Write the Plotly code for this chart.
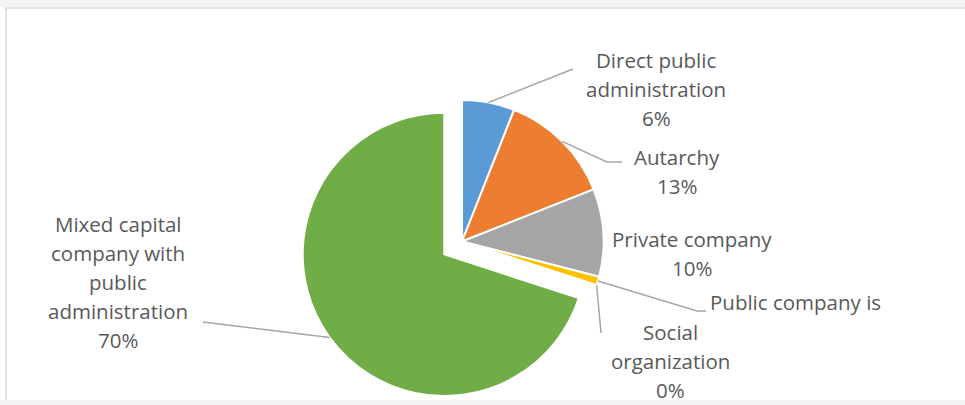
import math
import plotly.graph_objects as go

# Share of entities by legal nature (percent)
categories = [
    "Direct public administration",
    "Autarchy",
    "Private company",
    "Public company is",
    "Social organization",
    "Mixed capital company with public administration",
]
values = [6, 13, 10, 1, 0, 70]
pct_labels = ["6%", "13%", "10%", "", "0%", "70%"]
# wrapped label lines as printed next to the pie
label_lines = [
    ["Direct public", "administration"],
    ["Autarchy"],
    ["Private company"],
    ["Public company is"],
    ["Social", "organization"],
    ["Mixed capital", "company with", "public", "administration"],
]
colors = ["#5B9BD5", "#ED7D31", "#A5A5A5", "#FFC000", "#4472C4", "#70AD47"]
pulls = [0, 0, 0, 0, 0, 0.155]

W, H = 965, 405
T, B = 78, 0
PH = H - T - B
DOM_X = [0.2, 0.7575]


def px(x):
    return x / W


def py(y):
    return 1 - (y - T) / PH


fig = go.Figure()
fig.add_trace(go.Pie(
    labels=categories,
    values=values,
    sort=False,
    direction="clockwise",
    rotation=0,
    pull=pulls,
    marker=dict(colors=colors, line=dict(color="white", width=2)),
    textinfo="none",
    hoverinfo="label+percent",
    showlegend=False,
    domain=dict(x=DOM_X, y=[0, 1]),
))

# pie geometry as plotly lays it out
cx = W * (DOM_X[0] + DOM_X[1]) / 2
cy = T + PH / 2
r = min(W * (DOM_X[1] - DOM_X[0]) / 2, PH / 2) / (1 + max(pulls))

total = sum(values)
cum = 0
anchors = []
for v, p in zip(values, pulls):
    mid = (cum + v / 2) / total * 2 * math.pi
    cum += v
    ox = cx + p * r * math.sin(mid)
    oy = cy - p * r * math.cos(mid)
    anchors.append((ox + r * math.sin(mid), oy - r * math.cos(mid)))

TEXT = "#595959"
FONT = "Open Sans"
FS = 20.5
LH = 29

# label placement: (centre x, first line y, anchor side)
label_pos = [
    (656, 60, "center"),
    (677, 157, "center"),
    (692, 239, "center"),
    (708, 302, "left"),
    (670, 332, "center"),
    (118, 224, "center"),
]
# leader line bends near each label (None = no leader)
leaders = [
    [(573, 69)],
    [(607, 162), (622, 162)],
    None,
    [(697, 311), (706, 311)],
    [(601, 333)],
    [(203, 322)],
]

annotations = []
for i, (lines, pct) in enumerate(zip(label_lines, pct_labels)):
    x0, y0, side = label_pos[i]
    rows = lines + ([pct] if pct else [])
    for k, row in enumerate(rows):
        annotations.append(dict(
            x=px(x0), y=py(y0 + k * LH), xref="paper", yref="paper",
            text=row, showarrow=False,
            xanchor=side, yanchor="middle",
            font=dict(family=FONT, size=FS, color=TEXT),
        ))

shapes = []
for i, pts in enumerate(leaders):
    if not pts:
        continue
    ax, ay = anchors[i]
    path = f"M {px(ax)},{py(ay)}" + "".join(f" L {px(x)},{py(y)}" for x, y in pts)
    shapes.append(dict(type="path", path=path, xref="paper", yref="paper",
                       line=dict(color="#A6A6A6", width=1.5), layer="above"))

# chart frame
shapes += [
    dict(type="rect", xref="paper", yref="paper", x0=px(0), x1=px(W), y0=py(0), y1=py(7),
         fillcolor="#F3F3F3", line=dict(width=0), layer="below"),
    dict(type="rect", xref="paper", yref="paper", x0=px(0), x1=px(W), y0=py(400), y1=py(H),
         fillcolor="#F3F3F3", line=dict(width=0), layer="below"),
    dict(type="line", xref="paper", yref="paper", x0=px(5), x1=px(W), y0=py(8), y1=py(8),
         line=dict(color="#D9D9D9", width=1.5), layer="below"),
    dict(type="line", xref="paper", yref="paper", x0=px(6), x1=px(6), y0=py(8), y1=py(400),
         line=dict(color="#D9D9D9", width=1.5), layer="below"),
]

fig.update_layout(
    width=W, height=H,
    margin=dict(l=0, r=0, t=T, b=B, pad=0),
    paper_bgcolor="white",
    plot_bgcolor="white",
    annotations=annotations,
    shapes=shapes,
)

fig.write_html("out.html", include_plotlyjs=True, config={"displayModeBar": False})
